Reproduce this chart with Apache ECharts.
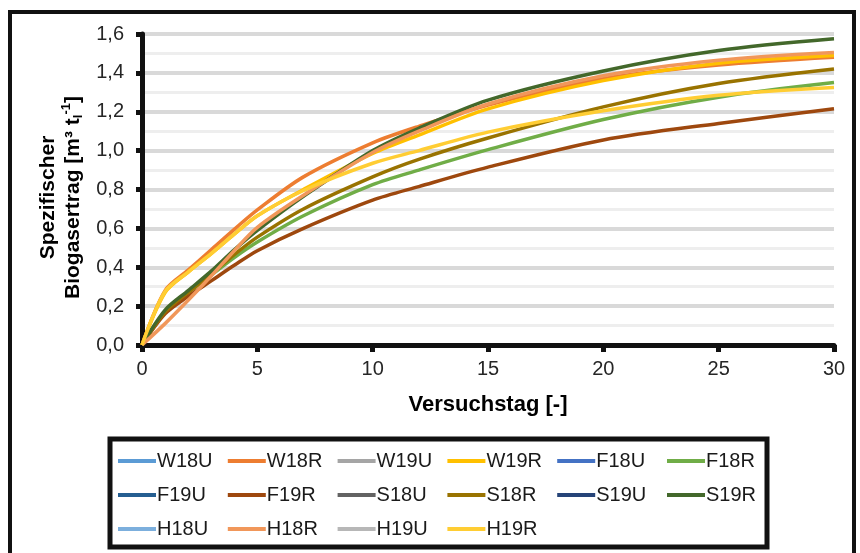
<!DOCTYPE html>
<html>
<head>
<meta charset="utf-8">
<script src="https://cdn.jsdelivr.net/npm/echarts@6/dist/echarts.min.js"></script>
<style>
  html, body { margin: 0; padding: 0; background: #fff; }
  #chart { width: 860px; height: 553px; }
</style>
</head>
<body>
<div id="chart"></div>
<script>
const days = [0, 1, 2, 3, 4, 5, 7, 10, 12, 15, 20, 25, 30]

// spezifischer Biogasertrag je Variante (U-Varianten ohne Kurve im Bild)
const W18U = []
const W18R = [0, 0.28, 0.385, 0.49, 0.595, 0.695, 0.865, 1.04, 1.125, 1.235, 1.37, 1.44, 1.48]
const W19U = []
const W19R = [0, 0.27, 0.375, 0.47, 0.57, 0.665, 0.80, 0.985, 1.08, 1.215, 1.36, 1.45, 1.49]
const F18U = []
const F18R = [0, 0.17, 0.27, 0.36, 0.45, 0.53, 0.665, 0.825, 0.90, 1.005, 1.16, 1.275, 1.35]
const F19U = []
const F19R = [0, 0.16, 0.25, 0.33, 0.41, 0.485, 0.60, 0.745, 0.815, 0.915, 1.055, 1.14, 1.215]
const S18U = []
const S18R = [0, 0.17, 0.27, 0.365, 0.465, 0.555, 0.70, 0.865, 0.955, 1.065, 1.225, 1.345, 1.42]
const S19U = []
const S19R = [0, 0.18, 0.28, 0.38, 0.49, 0.59, 0.765, 1.0, 1.115, 1.26, 1.41, 1.515, 1.575]
const H18U = []
const H18R = [0, 0.11, 0.23, 0.355, 0.485, 0.605, 0.77, 0.99, 1.10, 1.24, 1.385, 1.465, 1.505]
const H19U = []
const H19R = [0, 0.275, 0.375, 0.47, 0.57, 0.665, 0.795, 0.935, 1.0, 1.095, 1.205, 1.285, 1.325]

const names = ['W18U', 'W18R', 'W19U', 'W19R', 'F18U', 'F18R',
  'F19U', 'F19R', 'S18U', 'S18R', 'S19U', 'S19R',
  'H18U', 'H18R', 'H19U', 'H19R']
const values = [W18U, W18R, W19U, W19R, F18U, F18R,
  F19U, F19R, S18U, S18R, S19U, S19R,
  H18U, H18R, H19U, H19R]
const colors = ['#5B9BD5', '#ED7D31', '#A5A5A5', '#FFC000', '#4472C4', '#70AD47',
  '#255E91', '#9E480E', '#636363', '#997300', '#264478', '#43682B',
  '#7CAFDD', '#F1975A', '#B7B7B7', '#FFCD33']

const font = '"Liberation Sans", Arial, sans-serif'

const chart = echarts.init(document.getElementById('chart'), null, { renderer: 'canvas' })

const series = names.map((name, i) => ({
  name: name,
  type: 'line',
  smooth: 0.3,
  showSymbol: false,
  symbol: 'none',
  lineStyle: { color: colors[i], width: 3.5 },
  itemStyle: { color: colors[i] },
  data: values[i].map((v, k) => [days[k], v])
}))

// one legend per column, so the columns line up like in the original
const legends = []
for (let c = 0; c < 6; c++) {
  const col = []
  for (let r = 0; r < 3; r++) {
    if (names[r * 6 + c]) col.push(names[r * 6 + c])
  }
  legends.push({
    data: col,
    orient: 'vertical',
    top: 451,
    left: 118 + c * 109.8,
    padding: 0,
    icon: 'rect',
    itemWidth: 38,
    itemHeight: 4,
    itemGap: 14,
    selectedMode: false,
    textStyle: { fontFamily: font, fontSize: 20, lineHeight: 20, color: '#1a1a1a', padding: [0, 0, 0, -4] }
  })
}

chart.setOption({
  animation: false,
  backgroundColor: '#fff',
  textStyle: { fontFamily: font },
  grid: { left: 142, right: 26, top: 34, bottom: 208 },
  legend: legends,
  xAxis: {
    type: 'value',
    min: 0,
    max: 30,
    interval: 5,
    name: 'Versuchstag [-]',
    nameLocation: 'middle',
    nameGap: 49,
    nameTextStyle: { fontFamily: font, fontSize: 22, fontWeight: 'bold', color: '#000' },
    axisLine: { show: true, lineStyle: { color: '#111', width: 5 } },
    axisTick: { show: true, length: 7, lineStyle: { color: '#111', width: 5 } },
    axisLabel: { fontFamily: font, fontSize: 20, color: '#262626', margin: 14 },
    splitLine: { show: false }
  },
  yAxis: {
    type: 'value',
    min: 0,
    max: 1.6,
    interval: 0.2,
    name: '{b|Spezifischer}\n{b|Biogasertrag [m³ t}{sub|l}{sup|-1}{b|]}',
    nameLocation: 'middle',
    nameGap: 52,
    nameRotate: 90,
    nameTextStyle: {
      fontFamily: font,
      align: 'center',
      padding: [0, 16, 0, 0],
      rich: {
        b: { fontFamily: font, fontSize: 21, fontWeight: 'bold', color: '#000', lineHeight: 25 },
        sub: { fontFamily: font, fontSize: 13, fontWeight: 'bold', color: '#000', lineHeight: 25, verticalAlign: 'bottom' },
        sup: { fontFamily: font, fontSize: 13, fontWeight: 'bold', color: '#000', lineHeight: 25, verticalAlign: 'top', padding: [0, 0, 6, 0] }
      }
    },
    axisLine: { show: true, lineStyle: { color: '#111', width: 5 } },
    axisTick: { show: true, length: 6, lineStyle: { color: '#111', width: 5 } },
    axisLabel: {
      fontFamily: font,
      fontSize: 20,
      color: '#262626',
      margin: 18,
      formatter: v => v.toFixed(1).replace('.', ',')
    },
    splitLine: { show: true, lineStyle: { color: '#d9d9d9', width: 4 } },
    minorTick: { show: false, splitNumber: 2 },
    minorSplitLine: { show: true, lineStyle: { color: '#eeeeee', width: 3 } }
  },
  graphic: [
    {
      type: 'rect',
      shape: { x: 10, y: 12, width: 844, height: 580 },
      style: { fill: 'none', stroke: '#111', lineWidth: 4 },
      silent: true
    },
    {
      type: 'rect',
      shape: { x: 110, y: 439, width: 657, height: 108 },
      style: { fill: 'none', stroke: '#111', lineWidth: 5 },
      silent: true
    }
  ],
  series: series
})
</script>
</body>
</html>
